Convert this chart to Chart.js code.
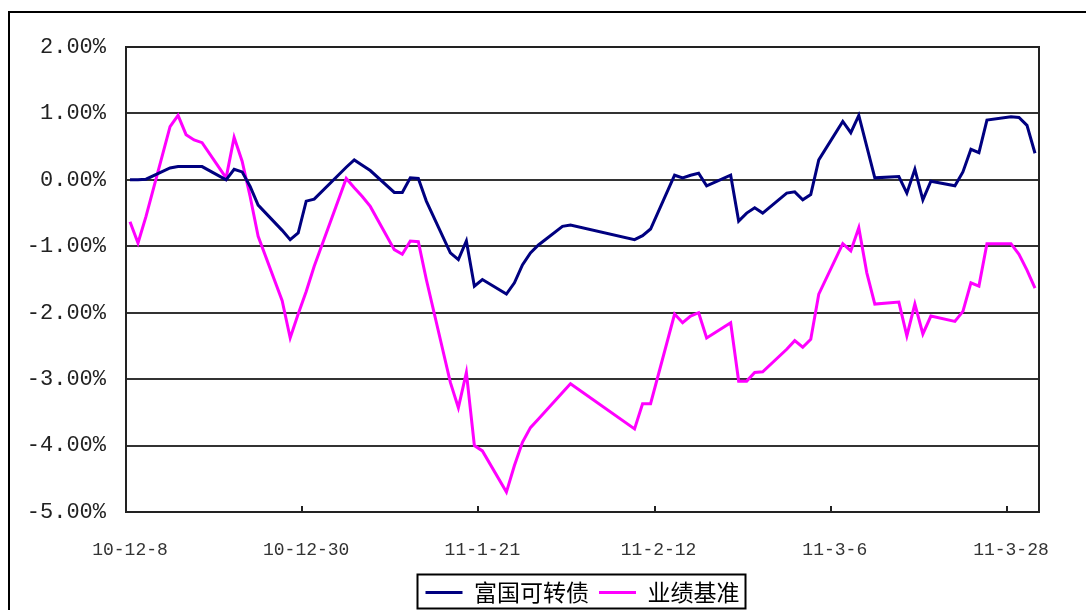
<!DOCTYPE html>
<html lang="zh-CN">
<head>
<meta charset="utf-8">
<title>富国可转债 业绩基准</title>
<script src="https://cdn.jsdelivr.net/npm/chart.js@4.4.1/dist/chart.umd.min.js"></script>
<style>
  html, body { margin: 0; padding: 0; background: #fff; }
  canvas { display: block; }
</style>
</head>
<body>
<canvas id="navChart" width="1086" height="610"></canvas>
<script>
// trading days shown in the chart
const dates = [
  '2010-12-08', '2010-12-09', '2010-12-10', '2010-12-13', '2010-12-14', '2010-12-15',
  '2010-12-16', '2010-12-17', '2010-12-20', '2010-12-21', '2010-12-22', '2010-12-23',
  '2010-12-24', '2010-12-27', '2010-12-28', '2010-12-29', '2010-12-30', '2010-12-31',
  '2011-01-04', '2011-01-05', '2011-01-06', '2011-01-07', '2011-01-10', '2011-01-11',
  '2011-01-12', '2011-01-13', '2011-01-14', '2011-01-17', '2011-01-18', '2011-01-19',
  '2011-01-20', '2011-01-21', '2011-01-24', '2011-01-25', '2011-01-26', '2011-01-27',
  '2011-01-28', '2011-01-31', '2011-02-01', '2011-02-09', '2011-02-10', '2011-02-11',
  '2011-02-14', '2011-02-15', '2011-02-16', '2011-02-17', '2011-02-18', '2011-02-21',
  '2011-02-22', '2011-02-23', '2011-02-24', '2011-02-25', '2011-02-28', '2011-03-01',
  '2011-03-02', '2011-03-03', '2011-03-04', '2011-03-07', '2011-03-08', '2011-03-09',
  '2011-03-10', '2011-03-11', '2011-03-14', '2011-03-15', '2011-03-16', '2011-03-17',
  '2011-03-18', '2011-03-21', '2011-03-22', '2011-03-23', '2011-03-24', '2011-03-25',
  '2011-03-28', '2011-03-29', '2011-03-30', '2011-03-31'
];

// 富国可转债 (%)
const fundReturns = [
  0.00, 0.00, 0.01, 0.18, 0.20, 0.20,
  0.20, 0.20, 0.00, 0.16, 0.12, -0.10,
  -0.38, -0.76, -0.90, -0.80, -0.32, -0.29,
  0.19, 0.30, 0.22, 0.14, -0.19, -0.19,
  0.03, 0.02, -0.32, -1.10, -1.20, -0.92,
  -1.60, -1.50, -1.72, -1.55, -1.28, -1.10,
  -0.98, -0.70, -0.68, -0.90, -0.84, -0.74,
  0.07, 0.03, 0.07, 0.10, -0.09, 0.07,
  -0.62, -0.50, -0.42, -0.50, -0.20, -0.18,
  -0.30, -0.22, 0.30, 0.88, 0.71, 0.97,
  0.50, 0.03, 0.05, -0.20, 0.16, -0.30,
  -0.02, -0.09, 0.12, 0.46, 0.41, 0.90,
  0.95, 0.94, 0.82, 0.40
];

// 业绩基准 (%)
const benchReturns = [
  -0.63, -0.95, -0.55, 0.80, 0.97, 0.68,
  0.60, 0.56, 0.03, 0.64, 0.28, -0.25,
  -0.85, -1.82, -2.38, -2.02, -1.68, -1.30,
  0.02, -0.12, -0.25, -0.40, -1.05, -1.12,
  -0.92, -0.93, -1.50, -3.05, -3.43, -2.90,
  -4.00, -4.08, -4.70, -4.30, -3.95, -3.73,
  -3.60, -3.20, -3.07, -3.75, -3.37, -3.37,
  -2.02, -2.15, -2.05, -2.00, -2.38, -2.15,
  -3.03, -3.03, -2.90, -2.89, -2.55, -2.42,
  -2.52, -2.40, -1.72, -0.96, -1.07, -0.72,
  -1.40, -1.87, -1.84, -2.35, -1.87, -2.32,
  -2.05, -2.13, -1.98, -1.55, -1.60, -0.96,
  -0.96, -1.12, -1.36, -1.63
];

const tickDates = ['2010-12-08', '2010-12-30', '2011-01-21', '2011-02-12', '2011-03-06', '2011-03-28'];
const tickLabels = ['10-12-8', '10-12-30', '11-1-21', '11-2-12', '11-3-6', '11-3-28'];

const DAY = 86400000;
const t0 = Date.parse(dates[0]);
const dayOf = d => (Date.parse(d) - t0) / DAY;
const xs = dates.map(dayOf);
const tickXs = tickDates.map(dayOf);
const lastX = xs[xs.length - 1];

const toPoints = vals => vals.map((v, i) => ({ x: xs[i], y: v }));

// white page + outer frame
const framePlugin = {
  id: 'frame',
  beforeDraw(chart) {
    const c = chart.ctx;
    c.save();
    c.fillStyle = '#fff';
    c.fillRect(0, 0, chart.width, chart.height);
    c.strokeStyle = '#000';
    c.lineWidth = 2;
    c.strokeRect(9, 12, chart.width + 20, chart.height + 20);
    c.restore();
  },
  afterDraw(chart) {
    const c = chart.ctx;
    const a = chart.chartArea;
    const xScale = chart.scales.x;
    c.save();
    c.strokeStyle = '#222';
    c.lineWidth = 2;
    c.strokeRect(a.left, a.top, a.right - a.left, a.bottom - a.top);
    // small inward tick marks between days
    tickXs.forEach(t => {
      const px = Math.round(xScale.getPixelForValue(t - 0.5));
      c.beginPath();
      c.moveTo(px, a.bottom);
      c.lineTo(px, a.bottom - 6);
      c.stroke();
    });
    // box round the legend
    const hb = chart.legend.legendHitBoxes;
    if (hb && hb.length) {
      const first = hb[0], last = hb[hb.length - 1];
      const cy = first.top + first.height / 2;
      c.strokeStyle = '#000';
      c.strokeRect(first.left - 8, cy - 18, last.left + last.width + 6 - (first.left - 8), 34);
    }
    c.restore();
  }
};

const ctx = document.getElementById('navChart').getContext('2d');
const navChart = new Chart(ctx, {
  type: 'line',
  data: {
    datasets: [{
      label: '富国可转债',
      data: toPoints(fundReturns),
      borderColor: '#000080',
      backgroundColor: '#000080',
      borderWidth: 3,
      pointRadius: 0,
      pointStyle: 'line',
      tension: 0
    }, {
      label: '业绩基准',
      data: toPoints(benchReturns),
      borderColor: '#ff00ff',
      backgroundColor: '#ff00ff',
      borderWidth: 3,
      pointRadius: 0,
      pointStyle: 'line',
      tension: 0
    }]
  },
  options: {
    responsive: false,
    animation: false,
    devicePixelRatio: 1,
    layout: { padding: { left: 0, top: 47, right: 47, bottom: -4 } },
    scales: {
      x: {
        type: 'linear',
        min: -0.5,
        max: lastX + 0.5,
        grid: { display: false },
        border: { display: false },
        afterBuildTicks: scale => { scale.ticks = tickXs.map(v => ({ value: v })); },
        afterFit: scale => { scale.height = 59; },
        ticks: {
          autoSkip: false,
          maxRotation: 0,
          padding: 19,
          color: '#333',
          font: { family: 'Liberation Mono', size: 18 },
          callback: v => tickLabels[tickXs.indexOf(v)]
        }
      },
      y: {
        min: -5,
        max: 2,
        afterFit: scale => { scale.width = 126; },
        grid: { color: '#333', lineWidth: 2, drawTicks: false },
        border: { display: false },
        ticks: {
          stepSize: 1,
          padding: 20,
          color: '#222',
          font: { family: 'Liberation Mono', size: 22 },
          callback: v => v.toFixed(2) + '%'
        }
      }
    },
    plugins: {
      legend: {
        position: 'bottom',
        fullSize: false,
        labels: {
          usePointStyle: true,
          pointStyleWidth: 37,
          padding: 10,
          color: '#000',
          font: { family: 'Noto Sans CJK SC', size: 23 }
        }
      },
      tooltip: { enabled: false }
    }
  },
  plugins: [framePlugin]
});
</script>
</body>
</html>
